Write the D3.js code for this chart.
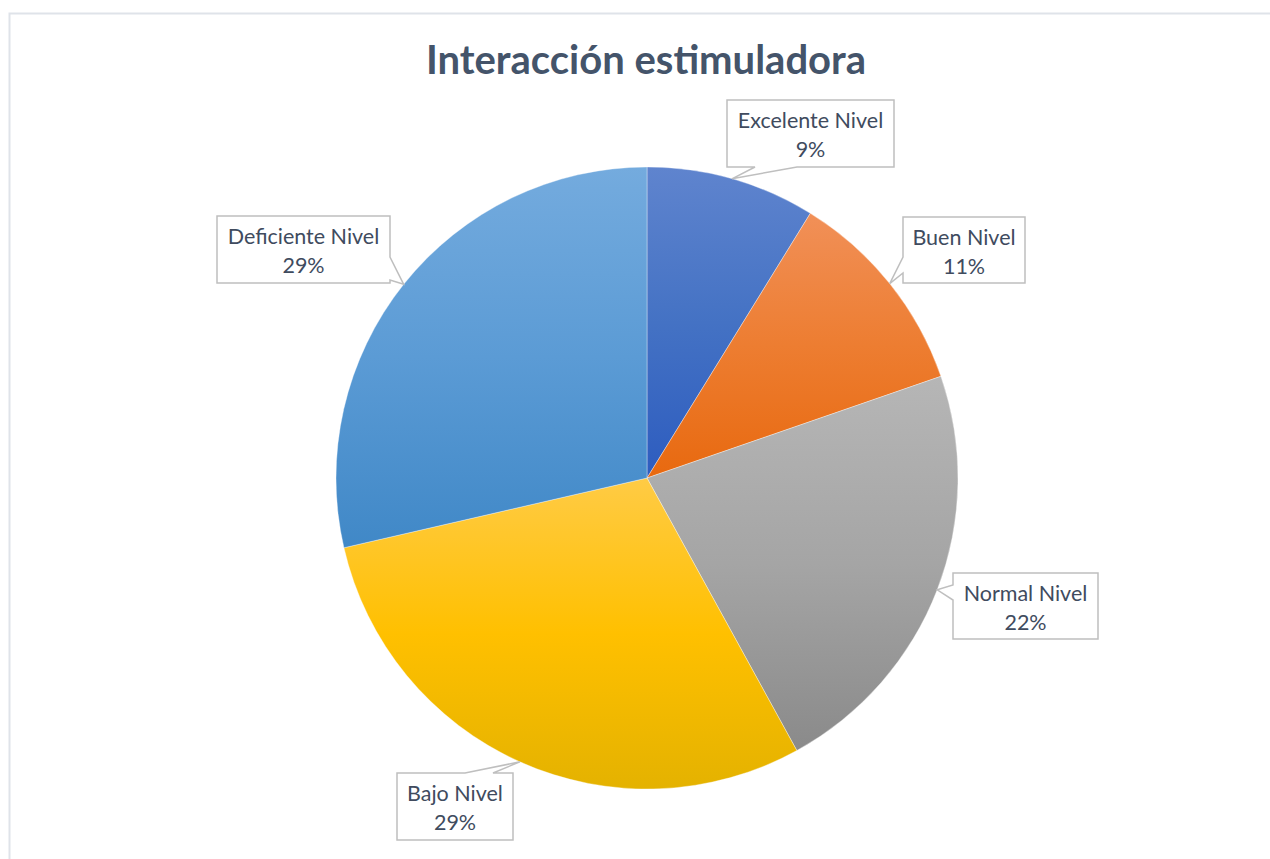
<!DOCTYPE html>
<html><head><meta charset="utf-8">
<script src="https://cdn.jsdelivr.net/npm/d3@7"></script>
<style>html,body{margin:0;padding:0;background:#fff;}svg{display:block;}</style>
</head><body>
<svg id="c" width="1270" height="859"></svg>
<script>
const title = "Interacción estimuladora";
const categories = ["Excelente Nivel", "Buen Nivel", "Normal Nivel", "Bajo Nivel", "Deficiente Nivel"];
const values = [8.8, 10.9, 22.3, 29.4, 28.6];
const percentLabels = ["9%", "11%", "22%", "29%", "29%"];
const colorTop = ["#5f84ce", "#f19058", "#b6b6b6", "#ffcb45", "#74abde"];
const colorMid = ["#4472c4", "#ed7d31", "#a5a5a5", "#ffc000", "#5b9bd5"];
const colorBottom = ["#2d5cbf", "#e8690f", "#8a8a8a", "#e4b200", "#4088c7"];

// callout box layout: [x, y, w, h, side, a, b]
const boxes = [
  [727, 100, 167, 67, "bottom", 797, 755],
  [903, 217, 122, 66, "left", 273, 257],
  [953, 573, 145, 66, "left", 600, 585],
  [397, 773, 116, 67, "top", 465, 493],
  [217, 216, 173, 67, "right", 257, 280]
];

const svg = d3.select("#c");
const W = 1270, H = 859, cx = 647, cy = 478, R = 311;

svg.append("path").attr("d", `M9.5,${H} L9.5,13.5 L${W},13.5`)
  .attr("fill", "none").attr("stroke", "#dfe3e9").attr("stroke-width", 2);

svg.append("text").attr("x", 646).attr("y", 74).attr("text-anchor", "middle")
  .attr("font-family", "Lato, 'Open Sans', sans-serif").attr("font-weight", "bold")
  .attr("font-size", 40).attr("fill", "#44546a").text(title);

const defs = svg.append("defs");
categories.forEach((c, i) => {
  const g = defs.append("linearGradient").attr("id", "g" + i)
    .attr("x1", 0).attr("y1", 0).attr("x2", 0).attr("y2", 1);
  g.append("stop").attr("offset", "0%").attr("stop-color", colorTop[i]);
  g.append("stop").attr("offset", "50%").attr("stop-color", colorMid[i]);
  g.append("stop").attr("offset", "100%").attr("stop-color", colorBottom[i]);
});

const pie = d3.pie().sort(null).value(d => d)(values);
const arc = d3.arc().innerRadius(0).outerRadius(R);
const gp = svg.append("g").attr("transform", `translate(${cx},${cy})`);
gp.selectAll("path").data(pie).join("path")
  .attr("d", arc).attr("fill", (d, i) => `url(#g${i})`)
  .attr("stroke", "rgba(255,255,255,0.5)").attr("stroke-width", 0.7);

const font = "Lato, 'Open Sans', sans-serif";
pie.forEach((d, i) => {
  const mid = (d.startAngle + d.endAngle) / 2;
  const tx = cx + R * Math.sin(mid), ty = cy - R * Math.cos(mid);
  const [x, y, w, h, side, a, b] = boxes[i];
  const x2 = x + w, y2 = y + h;
  let p;
  if (side === "bottom") p = [[x, y], [x2, y], [x2, y2], [a, y2], [tx, ty], [b, y2], [x, y2]];
  else if (side === "left") p = [[x, y], [x2, y], [x2, y2], [x, y2], [x, a], [tx, ty], [x, b]];
  else if (side === "top") p = [[x, y], [a, y], [tx, ty], [b, y], [x2, y], [x2, y2], [x, y2]];
  else p = [[x, y], [x2, y], [x2, a], [tx, ty], [x2, b], [x2, y2], [x, y2]];
  svg.append("path").attr("d", "M" + p.map(q => q.join(",")).join("L") + "Z")
    .attr("fill", "#fff").attr("stroke", "#bfbfbf").attr("stroke-width", 1.5)
    .attr("stroke-linejoin", "miter");
  const t = svg.append("text").attr("text-anchor", "middle").attr("font-family", font)
    .attr("font-size", 21.5).attr("fill", "#404b5e");
  t.append("tspan").attr("x", x + w / 2).attr("y", y + 28).text(categories[i]);
  t.append("tspan").attr("x", x + w / 2).attr("y", y + 57).text(percentLabels[i]);
});
</script>
</body></html>
